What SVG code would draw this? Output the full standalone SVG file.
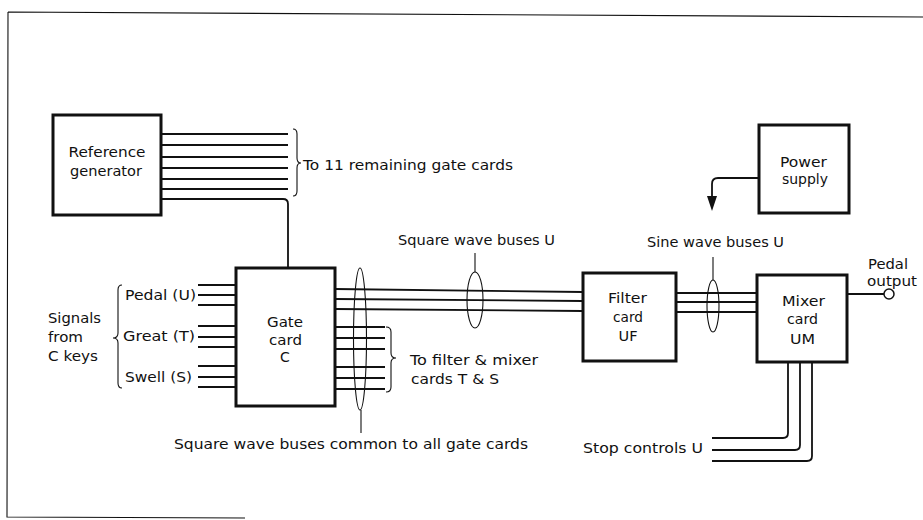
<svg xmlns="http://www.w3.org/2000/svg" width="923" height="520" viewBox="0 0 923 520">
<style>
.box{fill:none;stroke:#111;stroke-width:3}
.ln{fill:none;stroke:#111;stroke-width:1.8}
.thin{fill:none;stroke:#111;stroke-width:1.1}
text{font-family:"DejaVu Sans","Liberation Sans",sans-serif;font-size:14px;fill:#111}
.c{text-anchor:middle}
</style>
<rect width="923" height="520" fill="#fff"/>
<g id="frame">
<path class="thin" d="M8,12 L923,17 M8,12 L7,517 L245,518"/>
</g>
<g id="ref-gen">
<rect class="box" x="53" y="115" width="108" height="100"/>
<text class="c" x="107" y="157" textLength="77" lengthAdjust="spacingAndGlyphs">Reference</text>
<text class="c" x="106" y="176" textLength="72" lengthAdjust="spacingAndGlyphs">generator</text>
</g>
<g id="gate-card">
<rect class="box" x="236" y="268" width="99" height="138"/>
<text class="c" x="285" y="327" textLength="36" lengthAdjust="spacingAndGlyphs">Gate</text>
<text class="c" x="285.5" y="345" textLength="33" lengthAdjust="spacingAndGlyphs">card</text>
<text class="c" x="285" y="362">C</text>
</g>
<g id="filter-card">
<rect class="box" x="583" y="273" width="93" height="88"/>
<text class="c" x="627.5" y="303" textLength="39" lengthAdjust="spacingAndGlyphs">Filter</text>
<text class="c" x="628" y="322" textLength="30" lengthAdjust="spacingAndGlyphs">card</text>
<text class="c" x="628" y="341" textLength="19" lengthAdjust="spacingAndGlyphs">UF</text>
</g>
<g id="mixer-card">
<rect class="box" x="757" y="275" width="90" height="87"/>
<text class="c" x="803.5" y="306" textLength="43" lengthAdjust="spacingAndGlyphs">Mixer</text>
<text class="c" x="802.5" y="324" textLength="31" lengthAdjust="spacingAndGlyphs">card</text>
<text class="c" x="802.5" y="344" textLength="25" lengthAdjust="spacingAndGlyphs">UM</text>
</g>
<g id="power-supply">
<rect class="box" x="759" y="125" width="90" height="88"/>
<text class="c" x="803.5" y="167" textLength="47" lengthAdjust="spacingAndGlyphs">Power</text>
<text class="c" x="805" y="184" textLength="46" lengthAdjust="spacingAndGlyphs">supply</text>
</g>
<g id="pedal-output">
<circle cx="889" cy="294" r="5" fill="#fff" stroke="#111" stroke-width="1.5"/>
<text class="c" x="888" y="269" textLength="40" lengthAdjust="spacingAndGlyphs">Pedal</text>
<text class="c" x="892" y="286" textLength="50" lengthAdjust="spacingAndGlyphs">output</text>
</g>
<g id="connectors">
<path class="ln" d="M161,134 H288 M161,145 H288 M161,157 H288 M161,168 H288 M161,179 H288 M161,189 H288"/>
<path class="ln" d="M161,199 H283 Q288,199 288,204 V268"/>
<path class="thin" d="M293,129 Q297,129 297,134 V158 Q297,163 301,163 Q297,163 297,168 V191 Q297,196 293,196"/>
<path class="ln" d="M198,285 H236 M198,295 H236 M198,305 H236 M198,326 H236 M198,337 H236 M198,347 H236 M198,366 H236 M198,377 H236 M198,387 H236"/>
<path class="thin" d="M122,285 Q118,285 118,290 V333 Q118,338 113,338 Q118,338 118,343 V383 Q118,388 122,388"/>
<path class="ln" d="M335,289 L583,292 M335,299 L583,301 M335,309 L583,311"/>
<path class="ln" d="M335,327 H385 M335,338 H385 M335,349 H385 M335,367 H385 M335,378 H385 M335,389 H385"/>
<path class="thin" d="M386,327 Q391,327 391,332 V353 Q391,358 396,358 Q391,358 391,363 V387 Q391,392 386,392"/>
<ellipse class="thin" cx="360" cy="339" rx="6.5" ry="71"/>
<path class="thin" d="M361,410 V433"/>
<ellipse class="thin" cx="475" cy="300" rx="8" ry="28"/>
<path class="thin" d="M475,253 V272"/>
<path class="ln" d="M676,293 H757 M676,302 H757 M676,312 H757"/>
<ellipse class="thin" cx="713" cy="306" rx="6" ry="26"/>
<path class="thin" d="M713,257 V280"/>
<path class="ln" d="M847,294 H884"/>
<path class="ln" d="M759,178 H718 Q712,178 712,184 V197"/>
<polygon points="707,196 717,196 712,211" fill="#111"/>
<path class="ln" d="M712,438 H783 Q788,438 788,433 V362 M712,450 H795 Q800,450 800,445 V362 M712,461 H807 Q812,461 812,456 V362"/>
</g>
<g id="labels">
<text x="303" y="170" textLength="210" lengthAdjust="spacingAndGlyphs">To 11 remaining gate cards</text>
<text x="125" y="300" textLength="71" lengthAdjust="spacingAndGlyphs">Pedal (U)</text>
<text x="123" y="341" textLength="72" lengthAdjust="spacingAndGlyphs">Great (T)</text>
<text x="125" y="382" textLength="67" lengthAdjust="spacingAndGlyphs">Swell (S)</text>
<text x="48" y="323" textLength="53" lengthAdjust="spacingAndGlyphs">Signals</text>
<text x="48" y="342" textLength="35" lengthAdjust="spacingAndGlyphs">from</text>
<text x="48" y="361" textLength="50" lengthAdjust="spacingAndGlyphs">C keys</text>
<text x="410" y="365" textLength="128" lengthAdjust="spacingAndGlyphs">To filter &amp; mixer</text>
<text x="411" y="384" textLength="88" lengthAdjust="spacingAndGlyphs">cards T &amp; S</text>
<text x="398" y="245" textLength="157" lengthAdjust="spacingAndGlyphs">Square wave buses U</text>
<text x="647" y="247" textLength="137" lengthAdjust="spacingAndGlyphs">Sine wave buses U</text>
<text x="174" y="449" textLength="354" lengthAdjust="spacingAndGlyphs">Square wave buses common to all gate cards</text>
<text x="583" y="453" textLength="120" lengthAdjust="spacingAndGlyphs">Stop controls U</text>
</g>
</svg>
